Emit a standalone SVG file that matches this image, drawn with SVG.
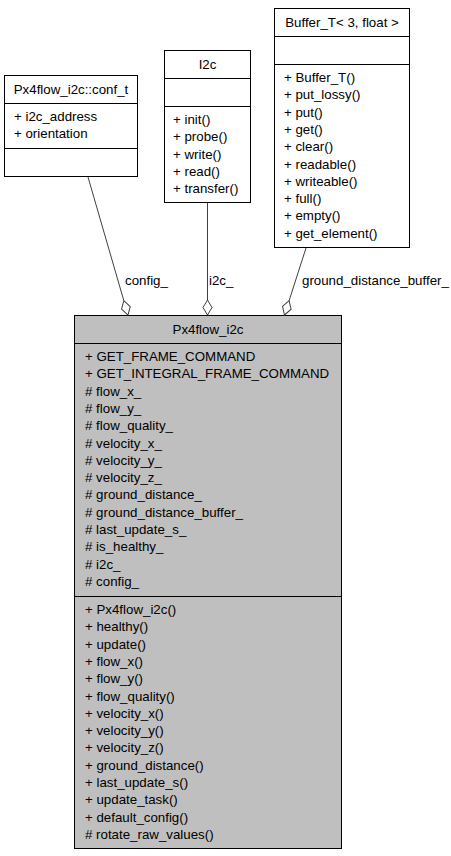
<svg xmlns="http://www.w3.org/2000/svg" width="451" height="856" viewBox="0 0 451 856">
<defs>
<style>
text{font-family:"Liberation Sans",Arial,sans-serif;font-size:13.3px;fill:#000}
.c{text-anchor:middle}
.box{fill:#fff;stroke:#000;stroke-width:1}
.main{fill:#bfbfbf;stroke:#000;stroke-width:1}
.edge{fill:none;stroke:#404040;stroke-width:1}
.dia{fill:#fff;stroke:#404040;stroke-width:1}
</style>
<path id="odia" d="M0,0 L4.5,-7.5 L0,-15 L-4.5,-7.5 Z"/>
</defs>
<rect width="451" height="856" fill="#fff"/>

<g id="conf_t">
<rect class="box" x="4.5" y="75.5" width="133" height="101"/>
<line class="box" x1="4.5" y1="103.5" x2="137.5" y2="103.5"/>
<line class="box" x1="4.5" y1="148.5" x2="137.5" y2="148.5"/>
<text class="c" x="71" y="94">Px4flow_i2c::conf_t</text>
<text x="14" y="121">+ i2c_address</text>
<text x="14" y="138.3">+ orientation</text>
</g>

<g id="I2c">
<rect class="box" x="164.5" y="50.5" width="86" height="152"/>
<line class="box" x1="164.5" y1="78.5" x2="250.5" y2="78.5"/>
<line class="box" x1="164.5" y1="106.5" x2="250.5" y2="106.5"/>
<text class="c" x="207.5" y="69">I2c</text>
<text x="173" y="124">+ init()<tspan x="173" dy="17.3">+ probe()</tspan><tspan x="173" dy="17.3">+ write()</tspan><tspan x="173" dy="17.3">+ read()</tspan><tspan x="173" dy="17.3">+ transfer()</tspan></text>
</g>

<g id="Buffer_T">
<rect class="box" x="274.5" y="8.5" width="135" height="239"/>
<line class="box" x1="274.5" y1="36.5" x2="409.5" y2="36.5"/>
<line class="box" x1="274.5" y1="64.5" x2="409.5" y2="64.5"/>
<text class="c" x="342" y="27">Buffer_T&lt; 3, float &gt;</text>
<text x="284" y="82">+ Buffer_T()<tspan x="284" dy="17.3">+ put_lossy()</tspan><tspan x="284" dy="17.3">+ put()</tspan><tspan x="284" dy="17.3">+ get()</tspan><tspan x="284" dy="17.3">+ clear()</tspan><tspan x="284" dy="17.3">+ readable()</tspan><tspan x="284" dy="17.3">+ writeable()</tspan><tspan x="284" dy="17.3">+ full()</tspan><tspan x="284" dy="17.3">+ empty()</tspan><tspan x="284" dy="17.3">+ get_element()</tspan></text>
</g>

<g id="Px4flow_i2c">
<rect class="main" x="74.5" y="315.5" width="267" height="533"/>
<line class="main" x1="74.5" y1="343.5" x2="341.5" y2="343.5"/>
<line class="main" x1="74.5" y1="596.5" x2="341.5" y2="596.5"/>
<text class="c" x="208" y="334">Px4flow_i2c</text>
<text x="85" y="361">+ GET_FRAME_COMMAND<tspan x="85" dy="17.3">+ GET_INTEGRAL_FRAME_COMMAND</tspan><tspan x="85" dy="17.3"># flow_x_</tspan><tspan x="85" dy="17.3"># flow_y_</tspan><tspan x="85" dy="17.3"># flow_quality_</tspan><tspan x="85" dy="17.3"># velocity_x_</tspan><tspan x="85" dy="17.3"># velocity_y_</tspan><tspan x="85" dy="17.3"># velocity_z_</tspan><tspan x="85" dy="17.3"># ground_distance_</tspan><tspan x="85" dy="17.3"># ground_distance_buffer_</tspan><tspan x="85" dy="17.3"># last_update_s_</tspan><tspan x="85" dy="17.3"># is_healthy_</tspan><tspan x="85" dy="17.3"># i2c_</tspan><tspan x="85" dy="17.3"># config_</tspan></text>
<text x="85" y="614">+ Px4flow_i2c()<tspan x="85" dy="17.3">+ healthy()</tspan><tspan x="85" dy="17.3">+ update()</tspan><tspan x="85" dy="17.3">+ flow_x()</tspan><tspan x="85" dy="17.3">+ flow_y()</tspan><tspan x="85" dy="17.3">+ flow_quality()</tspan><tspan x="85" dy="17.3">+ velocity_x()</tspan><tspan x="85" dy="17.3">+ velocity_y()</tspan><tspan x="85" dy="17.3">+ velocity_z()</tspan><tspan x="85" dy="17.3">+ ground_distance()</tspan><tspan x="85" dy="17.3">+ last_update_s()</tspan><tspan x="85" dy="17.3">+ update_task()</tspan><tspan x="85" dy="17.3">+ default_config()</tspan><tspan x="85" dy="17.3"># rotate_raw_values()</tspan></text>
</g>

<g id="connectors">
<line class="edge" x1="88" y1="177" x2="123.8" y2="300.6"/>
<use href="#odia" class="dia" transform="translate(128,315) rotate(-16.2)"/>
<text x="125" y="285">config_</text>
<line class="edge" x1="207.5" y1="203" x2="207.5" y2="300"/>
<use href="#odia" class="dia" transform="translate(207.5,315)"/>
<text x="209" y="285">i2c_</text>
<line class="edge" x1="306" y1="248" x2="289.1" y2="300.7"/>
<use href="#odia" class="dia" transform="translate(284.5,315) rotate(17.8)"/>
<text x="302" y="285">ground_distance_buffer_</text>
</g>
</svg>
